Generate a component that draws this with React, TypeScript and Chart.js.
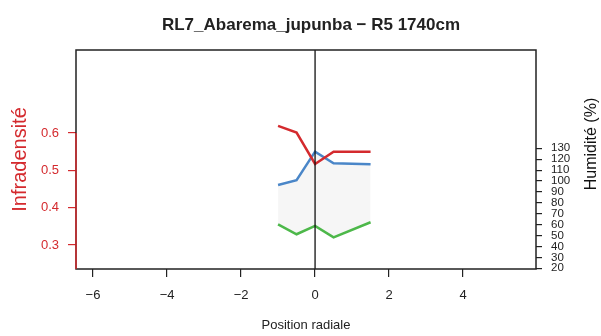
import React, { useEffect, useRef } from 'react';
import { Chart, registerables } from 'chart.js';

Chart.register(...registerables);

// ---- data ----
const positions = [-1, -0.5, 0, 0.5, 1.5];
const infradensite = [0.619, 0.601, 0.517, 0.55, 0.55];
const humiditeHaute = [96.4, 100.7, 126.9, 116.3, 115.4];
const humiditeBasse = [60.3, 51.2, 58.8, 48.4, 62.2];
const xTicks = [-6, -4, -2, 0, 2, 4];
const yLeftTicks = [0.3, 0.4, 0.5, 0.6];
const yRightTicks = [20, 30, 40, 50, 60, 70, 80, 90, 100, 110, 120, 130];
const titleText = 'RL7_Abarema_jupunba \u2212 R5 1740cm';
const xTitle = 'Position radiale';
const yLeftTitle = 'Infradensit\u00e9';
const yRightTitle = 'Humidit\u00e9 (%)';

const RED = '#d42a2e';
const BLUE = '#4a86c8';
const GREEN = '#4db84a';
const INK = '#222222';
const FONT = "'Liberation Sans', Arial, Helvetica, sans-serif";

const pts = (ys: number[]) => positions.map((x, i) => ({ x, y: ys[i] }));

const decorPlugin = {
  id: 'decor',
  afterDatasetsDraw(chart: any) {
    const { ctx, chartArea: a, scales } = chart;
    const x0 = scales.x.getPixelForValue(0);
    ctx.save();
    ctx.strokeStyle = '#111';
    ctx.lineWidth = 1.3;
    ctx.beginPath();
    ctx.moveTo(x0, a.top);
    ctx.lineTo(x0, a.bottom);
    ctx.stroke();
    ctx.restore();
  },
  afterDraw(chart: any) {
    const { ctx, chartArea: a, scales } = chart;
    ctx.save();
    ctx.strokeStyle = INK;
    ctx.lineWidth = 1.5;
    ctx.strokeRect(a.left, a.top, a.right - a.left, a.bottom - a.top);
    // red left axis line
    const yTop = scales.y.getPixelForValue(yLeftTicks[yLeftTicks.length - 1]);
    ctx.strokeStyle = RED;
    ctx.beginPath();
    ctx.moveTo(a.left, yTop);
    ctx.lineTo(a.left, a.bottom);
    ctx.stroke();

    // main title
    ctx.fillStyle = INK;
    ctx.font = `bold 17px ${FONT}`;
    ctx.textAlign = 'center';
    ctx.textBaseline = 'alphabetic';
    ctx.fillText(titleText, 311, 30);

    // x title
    ctx.font = `13px ${FONT}`;
    ctx.fillText(xTitle, (a.left + a.right) / 2, 329);

    // left title
    ctx.save();
    ctx.translate(26, (a.top + a.bottom) / 2);
    ctx.rotate(-Math.PI / 2);
    ctx.fillStyle = RED;
    ctx.font = `20px ${FONT}`;
    ctx.fillText(yLeftTitle, 0, 0);
    ctx.restore();

    // right title
    ctx.save();
    ctx.translate(596, 144);
    ctx.rotate(-Math.PI / 2);
    ctx.fillStyle = '#111';
    ctx.font = `16px ${FONT}`;
    ctx.fillText(yRightTitle, 0, 0);
    ctx.restore();
    ctx.restore();
  },
};

export default function App() {
  const ref = useRef<HTMLCanvasElement | null>(null);
  useEffect(() => {
    if (!ref.current) return;
    const chart = new Chart(ref.current, {
      type: 'line',
      data: {
        datasets: [
          {
            label: 'Infradensité',
            data: pts(infradensite),
            yAxisID: 'y',
            borderColor: RED,
            borderWidth: 2.5,
            pointRadius: 0,
            fill: false,
            tension: 0,
          },
          {
            label: 'Humidité haute',
            data: pts(humiditeHaute),
            yAxisID: 'y2',
            borderColor: BLUE,
            borderWidth: 2.5,
            pointRadius: 0,
            fill: false,
            tension: 0,
          },
          {
            label: 'Humidité basse',
            data: pts(humiditeBasse),
            yAxisID: 'y2',
            borderColor: GREEN,
            backgroundColor: '#f6f6f6',
            borderWidth: 2.5,
            pointRadius: 0,
            fill: '-1',
            tension: 0,
          },
        ],
      },
      options: {
        responsive: false,
        animation: false,
        layout: { padding: { top: 50, left: 0, right: 0, bottom: 0 } },
        plugins: {
          legend: { display: false },
          title: { display: false },
          tooltip: { enabled: false },
          filler: { drawTime: 'beforeDatasetsDraw' },
        } as any,
        scales: {
          x: {
            type: 'linear',
            position: 'bottom',
            min: -6.46,
            max: 5.97,
            afterBuildTicks: (s: any) => {
              s.ticks = xTicks.map((v) => ({ value: v }));
            },
            afterFit: (s: any) => {
              s.height = 67;
            },
            border: { display: false },
            grid: {
              display: true,
              drawOnChartArea: false,
              drawTicks: true,
              tickLength: 8,
              color: INK,
              lineWidth: 1.2,
            },
            ticks: {
              autoSkip: false,
              maxRotation: 0,
              padding: 11,
              color: INK,
              font: { family: FONT, size: 13 },
              callback: (v: any) => String(v).replace('-', '\u2212'),
            },
          },
          y: {
            type: 'linear',
            position: 'left',
            min: 0.2357,
            max: 0.8223,
            afterBuildTicks: (s: any) => {
              s.ticks = yLeftTicks.map((v) => ({ value: v }));
            },
            afterFit: (s: any) => {
              s.width = 76;
            },
            border: { display: false },
            grid: {
              display: true,
              drawOnChartArea: false,
              drawTicks: true,
              tickLength: 8,
              color: RED,
              lineWidth: 1.2,
            },
            ticks: {
              autoSkip: false,
              padding: 9,
              color: RED,
              font: { family: FONT, size: 13 },
              callback: (v: any) => Number(v).toFixed(1),
            },
          },
          y2: {
            type: 'linear',
            position: 'right',
            min: 19.36,
            max: 220.1,
            afterBuildTicks: (s: any) => {
              s.ticks = yRightTicks.map((v) => ({ value: v }));
            },
            afterFit: (s: any) => {
              s.width = 65;
            },
            border: { display: false },
            grid: {
              display: true,
              drawOnChartArea: false,
              drawTicks: true,
              tickLength: 6,
              color: INK,
              lineWidth: 1.2,
            },
            ticks: {
              autoSkip: false,
              padding: 9,
              color: INK,
              font: { family: FONT, size: 11.5, lineHeight: 1 },
              callback: (v: any) => String(v),
            },
          },
        },
      } as any,
      plugins: [decorPlugin],
    });
    return () => chart.destroy();
  }, []);

  return (
    <div style={{ position: 'absolute', left: 0, top: 0, width: 601, height: 336, background: '#fff' }}>
      <canvas ref={ref} width={601} height={336} style={{ display: 'block' }} />
    </div>
  );
}
